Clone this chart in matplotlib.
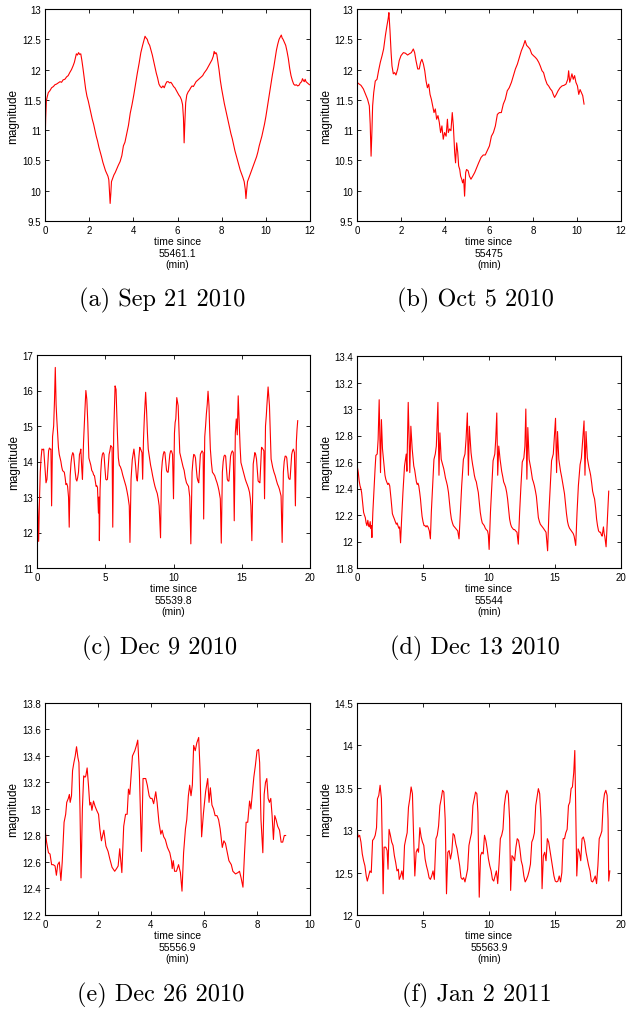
import numpy as np
import matplotlib
matplotlib.use("Agg")
import matplotlib.pyplot as plt
from matplotlib.ticker import FuncFormatter

# (time since epoch [min], magnitude) pairs
sep21 = [
    (0.00, 10.70), (0.03, 11.20), (0.06, 11.48), (0.10, 11.55), (0.15, 11.62), (0.22, 11.65),
    (0.30, 11.70), (0.38, 11.72), (0.45, 11.75), (0.52, 11.76), (0.60, 11.78), (0.68, 11.80),
    (0.75, 11.79), (0.82, 11.83), (0.90, 11.84), (0.98, 11.88), (1.05, 11.90), (1.12, 11.95),
    (1.20, 12.00), (1.27, 12.06), (1.33, 12.12), (1.38, 12.20), (1.42, 12.26), (1.47, 12.24),
    (1.52, 12.28), (1.57, 12.25), (1.62, 12.26), (1.67, 12.15), (1.72, 12.02), (1.78, 11.85),
    (1.84, 11.68), (1.90, 11.56), (1.96, 11.48), (2.02, 11.38), (2.08, 11.28), (2.14, 11.18),
    (2.20, 11.10), (2.26, 11.00), (2.32, 10.90), (2.38, 10.82), (2.44, 10.72), (2.50, 10.64),
    (2.56, 10.56), (2.62, 10.47), (2.68, 10.40), (2.74, 10.33), (2.80, 10.28), (2.85, 10.24),
    (2.89, 10.18), (2.92, 10.00), (2.95, 9.79), (2.98, 9.95), (3.01, 10.15), (3.06, 10.20),
    (3.12, 10.26), (3.18, 10.30), (3.25, 10.36), (3.32, 10.42), (3.40, 10.48), (3.48, 10.58),
    (3.55, 10.74), (3.62, 10.80), (3.70, 10.94), (3.78, 11.08), (3.86, 11.28), (3.94, 11.42),
    (4.02, 11.58), (4.10, 11.76), (4.18, 11.94), (4.26, 12.10), (4.34, 12.28), (4.42, 12.40),
    (4.48, 12.48), (4.53, 12.55), (4.58, 12.52), (4.63, 12.50), (4.68, 12.44), (4.74, 12.40),
    (4.80, 12.32), (4.86, 12.24), (4.92, 12.14), (4.98, 12.04), (5.04, 11.94), (5.10, 11.86),
    (5.16, 11.76), (5.22, 11.72), (5.28, 11.70), (5.34, 11.73), (5.40, 11.70), (5.46, 11.76),
    (5.52, 11.80), (5.58, 11.80), (5.64, 11.78), (5.70, 11.79), (5.76, 11.76), (5.82, 11.72),
    (5.88, 11.70), (5.94, 11.66), (6.00, 11.62), (6.06, 11.58), (6.12, 11.55), (6.18, 11.50),
    (6.23, 11.42), (6.27, 11.20), (6.30, 10.79), (6.33, 11.10), (6.37, 11.45), (6.42, 11.58),
    (6.48, 11.63), (6.54, 11.66), (6.60, 11.70), (6.66, 11.73), (6.72, 11.72), (6.78, 11.76),
    (6.84, 11.80), (6.90, 11.82), (6.96, 11.84), (7.02, 11.86), (7.08, 11.88), (7.14, 11.90),
    (7.20, 11.94), (7.26, 11.97), (7.32, 12.00), (7.38, 12.04), (7.44, 12.08), (7.50, 12.12),
    (7.56, 12.16), (7.62, 12.22), (7.66, 12.30), (7.70, 12.26), (7.74, 12.28), (7.78, 12.25),
    (7.82, 12.15), (7.88, 12.00), (7.94, 11.82), (8.00, 11.68), (8.06, 11.56), (8.12, 11.44),
    (8.18, 11.34), (8.24, 11.24), (8.30, 11.14), (8.36, 11.04), (8.42, 10.94), (8.48, 10.86),
    (8.54, 10.76), (8.60, 10.66), (8.66, 10.58), (8.72, 10.50), (8.78, 10.42), (8.84, 10.34),
    (8.90, 10.28), (8.96, 10.22), (9.02, 10.15), (9.07, 10.02), (9.10, 9.87), (9.13, 10.00),
    (9.17, 10.15), (9.22, 10.20), (9.28, 10.26), (9.34, 10.32), (9.40, 10.38), (9.46, 10.44),
    (9.52, 10.50), (9.58, 10.56), (9.64, 10.64), (9.70, 10.74), (9.76, 10.82), (9.82, 10.90),
    (9.88, 11.00), (9.94, 11.10), (10.00, 11.22), (10.06, 11.36), (10.12, 11.50), (10.18, 11.64),
    (10.24, 11.78), (10.30, 11.92), (10.36, 12.04), (10.42, 12.18), (10.48, 12.32), (10.54, 12.42),
    (10.60, 12.50), (10.66, 12.54), (10.70, 12.57), (10.74, 12.52), (10.78, 12.50), (10.84, 12.45),
    (10.90, 12.40), (10.96, 12.30), (11.02, 12.18), (11.08, 12.02), (11.14, 11.90), (11.20, 11.82),
    (11.26, 11.76), (11.32, 11.74), (11.38, 11.75), (11.44, 11.73), (11.50, 11.74), (11.56, 11.78),
    (11.62, 11.80), (11.66, 11.85), (11.70, 11.82), (11.74, 11.80), (11.78, 11.84), (11.82, 11.80),
    (11.88, 11.78), (11.94, 11.76), (11.98, 11.75),
]

oct5 = [
    (0.00, 11.79), (0.10, 11.76), (0.18, 11.74), (0.29, 11.68), (0.38, 11.60), (0.48, 11.51),
    (0.56, 11.40), (0.60, 11.10), (0.64, 10.57), (0.68, 11.00), (0.71, 11.40), (0.76, 11.62),
    (0.83, 11.81), (0.91, 11.84), (0.98, 11.98), (1.06, 12.12), (1.14, 12.23), (1.21, 12.34),
    (1.29, 12.56), (1.35, 12.70), (1.39, 12.78), (1.42, 12.85), (1.45, 12.94), (1.50, 12.64),
    (1.55, 12.28), (1.59, 12.06), (1.65, 11.93), (1.71, 11.95), (1.77, 11.91), (1.85, 12.01),
    (1.92, 12.15), (2.00, 12.23), (2.11, 12.28), (2.20, 12.27), (2.30, 12.24), (2.38, 12.26),
    (2.47, 12.28), (2.56, 12.34), (2.62, 12.28), (2.68, 12.15), (2.76, 12.01), (2.83, 12.01),
    (2.89, 12.12), (2.95, 12.17), (3.02, 12.09), (3.08, 11.98), (3.14, 11.81), (3.20, 11.70),
    (3.26, 11.76), (3.32, 11.59), (3.38, 11.51), (3.44, 11.40), (3.50, 11.29), (3.56, 11.35),
    (3.62, 11.18), (3.68, 11.24), (3.74, 11.13), (3.80, 10.96), (3.86, 11.07), (3.92, 10.85),
    (3.98, 10.96), (4.05, 10.90), (4.11, 11.18), (4.15, 10.96), (4.21, 11.02), (4.27, 10.99),
    (4.33, 11.29), (4.38, 11.07), (4.44, 10.63), (4.48, 10.46), (4.53, 10.79), (4.58, 10.63),
    (4.62, 10.41), (4.67, 10.35), (4.71, 10.24), (4.76, 10.19), (4.80, 10.13), (4.85, 10.19),
    (4.89, 9.91), (4.94, 10.30), (4.98, 10.35), (5.05, 10.33), (5.11, 10.24), (5.18, 10.19),
    (5.26, 10.24), (5.35, 10.30), (5.44, 10.38), (5.53, 10.46), (5.64, 10.55), (5.74, 10.59),
    (5.83, 10.59), (5.92, 10.66), (6.02, 10.74), (6.11, 10.90), (6.20, 10.96), (6.29, 11.07),
    (6.38, 11.26), (6.47, 11.29), (6.56, 11.29), (6.65, 11.43), (6.74, 11.51), (6.83, 11.65),
    (6.92, 11.70), (7.02, 11.79), (7.11, 11.90), (7.20, 12.01), (7.29, 12.09), (7.38, 12.20),
    (7.47, 12.31), (7.56, 12.39), (7.64, 12.48), (7.71, 12.40), (7.79, 12.37), (7.86, 12.34),
    (7.94, 12.26), (8.02, 12.23), (8.11, 12.20), (8.18, 12.17), (8.26, 12.12), (8.33, 12.06),
    (8.41, 11.98), (8.48, 11.95), (8.56, 11.84), (8.64, 11.76), (8.71, 11.73), (8.79, 11.68),
    (8.86, 11.65), (8.92, 11.59), (8.98, 11.54), (9.06, 11.59), (9.14, 11.65), (9.23, 11.70),
    (9.32, 11.73), (9.41, 11.74), (9.50, 11.76), (9.58, 11.84), (9.62, 11.98), (9.67, 11.79),
    (9.71, 11.84), (9.77, 11.93), (9.83, 11.84), (9.89, 11.90), (9.95, 11.79), (10.02, 11.73),
    (10.08, 11.59), (10.14, 11.67), (10.20, 11.62), (10.26, 11.57), (10.32, 11.43),
]

dec9 = [
    (0.00, 13.20), (0.06, 12.60), (0.12, 11.75), (0.18, 12.90), (0.24, 13.70), (0.30, 14.10),
    (0.36, 14.35), (0.43, 14.33), (0.49, 14.35), (0.55, 14.00), (0.60, 13.75), (0.66, 13.40),
    (0.73, 13.50), (0.79, 13.90), (0.85, 14.30), (0.91, 14.38), (0.97, 14.35), (1.02, 14.35),
    (1.07, 12.75), (1.14, 14.70), (1.22, 15.00), (1.28, 15.70), (1.34, 16.65), (1.40, 15.60),
    (1.45, 15.20), (1.51, 14.80), (1.57, 14.40), (1.63, 14.20), (1.69, 14.10), (1.75, 14.00),
    (1.81, 13.85), (1.87, 13.75), (1.93, 13.72), (2.00, 13.70), (2.06, 13.55), (2.12, 13.35),
    (2.18, 13.38), (2.24, 13.30), (2.31, 13.00), (2.36, 12.15), (2.43, 13.60), (2.49, 13.95),
    (2.55, 14.15), (2.62, 14.25), (2.68, 14.20), (2.74, 13.95), (2.80, 13.70), (2.86, 13.50),
    (2.92, 13.45), (2.98, 13.55), (3.04, 13.70), (3.11, 14.20), (3.16, 14.25), (3.21, 14.35),
    (3.28, 13.80), (3.33, 13.50), (3.41, 14.55), (3.48, 15.20), (3.53, 15.60), (3.58, 16.00),
    (3.65, 15.75), (3.72, 15.10), (3.80, 14.10), (3.87, 14.00), (3.94, 13.90), (4.01, 13.75),
    (4.09, 13.70), (4.15, 13.62), (4.21, 13.60), (4.27, 13.45), (4.33, 13.30), (4.38, 13.32),
    (4.43, 13.27), (4.50, 12.55), (4.54, 13.00), (4.57, 11.77), (4.62, 13.20), (4.67, 13.70),
    (4.73, 14.05), (4.79, 14.20), (4.85, 14.25), (4.91, 14.20), (4.97, 13.85), (5.04, 13.50),
    (5.10, 13.48), (5.16, 13.50), (5.22, 13.85), (5.28, 14.20), (5.34, 14.30), (5.40, 14.45),
    (5.50, 14.40), (5.55, 12.15), (5.62, 14.80), (5.67, 15.50), (5.72, 16.13), (5.79, 16.03),
    (5.84, 15.40), (5.89, 14.80), (5.96, 14.10), (6.03, 13.90), (6.11, 13.85), (6.20, 13.75),
    (6.28, 13.62), (6.37, 13.50), (6.45, 13.40), (6.52, 13.30), (6.60, 13.15), (6.67, 13.00),
    (6.76, 12.75), (6.81, 11.72), (6.89, 13.50), (6.98, 14.05), (7.04, 14.20), (7.10, 14.35),
    (7.16, 14.15), (7.23, 13.85), (7.29, 13.55), (7.35, 13.45), (7.41, 13.80), (7.47, 14.15),
    (7.53, 14.40), (7.59, 14.35), (7.69, 14.25), (7.74, 13.50), (7.80, 14.60), (7.87, 15.30),
    (7.96, 15.95), (8.03, 15.40), (8.09, 14.80), (8.15, 14.35), (8.24, 14.10), (8.32, 13.90),
    (8.40, 13.75), (8.47, 13.60), (8.55, 13.45), (8.64, 13.30), (8.72, 13.20), (8.81, 13.10),
    (8.88, 12.95), (8.95, 12.75), (9.05, 11.85), (9.12, 13.70), (9.18, 14.00), (9.25, 14.20),
    (9.31, 14.28), (9.37, 14.25), (9.43, 14.00), (9.49, 13.75), (9.55, 13.70), (9.61, 13.70),
    (9.67, 13.95), (9.73, 14.20), (9.79, 14.30), (9.85, 14.30), (9.93, 14.20), (10.00, 12.95),
    (10.07, 14.80), (10.12, 15.10), (10.17, 15.20), (10.24, 15.80), (10.34, 15.57), (10.40, 14.90),
    (10.46, 14.25), (10.55, 14.10), (10.63, 13.97), (10.70, 13.85), (10.78, 13.75), (10.86, 13.55),
    (10.95, 13.40), (11.02, 13.35), (11.10, 13.30), (11.19, 13.00), (11.27, 11.68), (11.36, 13.70),
    (11.42, 14.00), (11.48, 14.20), (11.55, 14.18), (11.61, 14.10), (11.67, 13.80), (11.73, 13.55),
    (11.79, 13.45), (11.85, 13.40), (11.91, 13.80), (11.97, 14.20), (12.03, 14.25), (12.09, 14.30),
    (12.17, 14.25), (12.21, 12.38), (12.29, 14.70), (12.35, 15.00), (12.41, 15.35), (12.47, 15.60),
    (12.53, 15.98), (12.60, 15.57), (12.65, 14.90), (12.70, 14.35), (12.78, 13.95), (12.85, 13.70),
    (12.94, 13.65), (13.02, 13.60), (13.10, 13.50), (13.19, 13.40), (13.26, 13.30), (13.33, 13.18),
    (13.43, 12.95), (13.50, 11.70), (13.58, 13.70), (13.64, 14.00), (13.70, 14.15), (13.76, 14.18),
    (13.82, 14.15), (13.88, 13.80), (13.94, 13.50), (14.00, 13.45), (14.06, 13.45), (14.12, 13.80),
    (14.18, 14.15), (14.25, 14.25), (14.31, 14.30), (14.38, 14.25), (14.45, 12.33), (14.53, 14.80),
    (14.60, 15.20), (14.67, 14.75), (14.74, 15.85), (14.82, 15.00), (14.88, 14.40), (14.94, 13.97),
    (15.02, 13.85), (15.09, 13.75), (15.18, 13.62), (15.26, 13.50), (15.33, 13.42), (15.40, 13.35),
    (15.49, 13.25), (15.57, 13.13), (15.63, 12.95), (15.67, 12.75), (15.74, 11.77), (15.84, 13.93),
    (15.90, 14.10), (15.96, 14.25), (16.02, 14.20), (16.08, 14.07), (16.14, 13.75), (16.20, 13.45),
    (16.27, 13.42), (16.33, 13.40), (16.39, 13.90), (16.45, 14.40), (16.50, 14.38), (16.55, 14.35),
    (16.62, 14.30), (16.67, 12.95), (16.74, 15.00), (16.80, 15.30), (16.84, 15.57), (16.93, 16.10),
    (17.03, 15.57), (17.09, 14.80), (17.15, 14.07), (17.21, 13.95), (17.27, 13.83), (17.36, 13.70),
    (17.45, 13.60), (17.53, 13.48), (17.62, 13.36), (17.69, 13.30), (17.76, 13.22), (17.82, 13.12),
    (17.88, 13.03), (17.96, 11.72), (18.05, 13.70), (18.11, 14.00), (18.18, 14.15), (18.24, 14.15),
    (18.30, 14.10), (18.36, 13.80), (18.42, 13.55), (18.48, 13.50), (18.54, 13.50), (18.60, 13.85),
    (18.66, 14.20), (18.72, 14.30), (18.78, 14.35), (18.86, 14.25), (18.93, 12.75), (19.00, 14.55),
    (19.05, 14.90), (19.10, 15.15),
]

dec13 = [
    (0.00, 12.58), (0.05, 12.55), (0.10, 12.52), (0.16, 12.46), (0.23, 12.42), (0.29, 12.40),
    (0.35, 12.37), (0.42, 12.30), (0.50, 12.22), (0.56, 12.20), (0.63, 12.18), (0.69, 12.14),
    (0.75, 12.12), (0.82, 12.16), (0.88, 12.12), (0.93, 12.11), (1.00, 12.15), (1.04, 12.10),
    (1.08, 12.12), (1.13, 12.03), (1.20, 12.22), (1.30, 12.42), (1.37, 12.55), (1.43, 12.65),
    (1.53, 12.66), (1.60, 12.77), (1.68, 13.07), (1.73, 12.77), (1.78, 12.52), (1.85, 12.92),
    (1.93, 12.70), (2.05, 12.57), (2.12, 12.50), (2.18, 12.47), (2.25, 12.45), (2.33, 12.43),
    (2.40, 12.44), (2.48, 12.42), (2.58, 12.32), (2.68, 12.21), (2.75, 12.19), (2.83, 12.17),
    (2.90, 12.15), (2.98, 12.13), (3.04, 12.14), (3.10, 12.12), (3.17, 12.10), (3.23, 12.11),
    (3.30, 11.99), (3.38, 12.17), (3.48, 12.37), (3.60, 12.57), (3.73, 12.66), (3.78, 12.53),
    (3.88, 13.05), (3.95, 12.77), (4.00, 12.52), (4.08, 12.87), (4.18, 12.70), (4.30, 12.57),
    (4.37, 12.54), (4.43, 12.50), (4.50, 12.45), (4.56, 12.43), (4.62, 12.44), (4.68, 12.42),
    (4.75, 12.37), (4.81, 12.32), (4.87, 12.25), (4.93, 12.19), (5.00, 12.15), (5.08, 12.12),
    (5.15, 12.12), (5.23, 12.11), (5.30, 12.12), (5.38, 12.11), (5.48, 12.08), (5.56, 12.02),
    (5.63, 12.22), (5.73, 12.42), (5.83, 12.62), (5.93, 12.66), (6.01, 12.72), (6.13, 13.05),
    (6.21, 12.50), (6.28, 12.82), (6.38, 12.62), (6.51, 12.57), (6.57, 12.55), (6.63, 12.52),
    (6.70, 12.48), (6.78, 12.45), (6.85, 12.42), (6.93, 12.37), (7.00, 12.30), (7.08, 12.22),
    (7.15, 12.17), (7.23, 12.14), (7.30, 12.12), (7.38, 12.11), (7.45, 12.10), (7.53, 12.09),
    (7.63, 12.08), (7.73, 12.02), (7.83, 12.22), (7.93, 12.42), (8.06, 12.62), (8.18, 12.66),
    (8.26, 12.77), (8.36, 12.97), (8.44, 12.50), (8.51, 12.87), (8.64, 12.67), (8.70, 12.62),
    (8.76, 12.58), (8.83, 12.54), (8.89, 12.50), (8.96, 12.47), (9.04, 12.45), (9.11, 12.41),
    (9.19, 12.37), (9.26, 12.30), (9.34, 12.22), (9.42, 12.17), (9.49, 12.14), (9.56, 12.13),
    (9.64, 12.12), (9.72, 12.10), (9.79, 12.09), (9.89, 12.08), (9.95, 12.05), (10.01, 11.94),
    (10.11, 12.22), (10.21, 12.42), (10.31, 12.61), (10.44, 12.66), (10.51, 12.77), (10.59, 12.97),
    (10.66, 12.50), (10.74, 12.72), (10.84, 12.62), (10.96, 12.53), (11.04, 12.49), (11.11, 12.45),
    (11.19, 12.43), (11.26, 12.41), (11.34, 12.37), (11.41, 12.32), (11.49, 12.24), (11.56, 12.17),
    (11.64, 12.13), (11.71, 12.11), (11.79, 12.10), (11.86, 12.09), (11.94, 12.09), (12.02, 12.08),
    (12.12, 12.07), (12.22, 11.98), (12.32, 12.22), (12.42, 12.42), (12.52, 12.60), (12.64, 12.63),
    (12.72, 12.72), (12.79, 13.00), (12.87, 12.47), (12.94, 12.86), (13.04, 12.62), (13.17, 12.55),
    (13.23, 12.51), (13.29, 12.47), (13.36, 12.45), (13.44, 12.42), (13.52, 12.38), (13.59, 12.34),
    (13.67, 12.25), (13.74, 12.18), (13.82, 12.15), (13.89, 12.13), (13.97, 12.12), (14.04, 12.11),
    (14.12, 12.10), (14.19, 12.09), (14.26, 12.08), (14.32, 12.07), (14.44, 11.93), (14.54, 12.22),
    (14.64, 12.42), (14.74, 12.61), (14.87, 12.66), (14.97, 12.82), (15.04, 12.93), (15.12, 12.52),
    (15.19, 12.83), (15.29, 12.62), (15.42, 12.53), (15.50, 12.49), (15.57, 12.45), (15.65, 12.40),
    (15.72, 12.36), (15.80, 12.28), (15.87, 12.21), (15.95, 12.15), (16.02, 12.12), (16.10, 12.10),
    (16.17, 12.09), (16.25, 12.08), (16.32, 12.07), (16.38, 12.06), (16.45, 12.04), (16.57, 11.97),
    (16.67, 12.22), (16.77, 12.42), (16.90, 12.58), (17.00, 12.63), (17.10, 12.77), (17.20, 12.91),
    (17.27, 12.50), (17.35, 12.83), (17.45, 12.63), (17.57, 12.56), (17.64, 12.53), (17.70, 12.50),
    (17.78, 12.44), (17.85, 12.38), (17.92, 12.35), (18.00, 12.32), (18.08, 12.25), (18.15, 12.17),
    (18.22, 12.12), (18.30, 12.08), (18.38, 12.07), (18.45, 12.07), (18.51, 12.05), (18.57, 12.04),
    (18.67, 12.11), (18.72, 12.06), (18.77, 12.04), (18.87, 11.96), (18.97, 12.17), (19.07, 12.38),
]

dec26 = [
    (0.00, 12.85), (0.06, 12.75), (0.13, 12.67), (0.19, 12.66), (0.25, 12.58), (0.31, 12.58),
    (0.38, 12.57), (0.43, 12.50), (0.48, 12.58), (0.54, 12.60), (0.60, 12.46), (0.65, 12.60),
    (0.72, 12.90), (0.78, 12.96), (0.82, 13.05), (0.88, 13.08), (0.92, 13.11), (0.95, 13.05),
    (1.00, 13.10), (1.04, 13.29), (1.09, 13.35), (1.14, 13.40), (1.19, 13.47), (1.24, 13.39),
    (1.28, 13.35), (1.32, 13.00), (1.36, 12.48), (1.41, 13.00), (1.46, 13.25), (1.51, 13.24),
    (1.54, 13.25), (1.59, 13.31), (1.64, 13.18), (1.69, 13.03), (1.73, 13.05), (1.77, 12.99),
    (1.83, 13.06), (1.89, 13.02), (1.95, 12.99), (2.02, 12.96), (2.07, 12.85), (2.13, 12.76),
    (2.22, 12.84), (2.30, 12.72), (2.38, 12.68), (2.45, 12.62), (2.53, 12.56), (2.63, 12.53),
    (2.70, 12.55), (2.76, 12.57), (2.82, 12.70), (2.90, 12.52), (2.97, 12.87), (3.04, 12.96),
    (3.10, 12.96), (3.15, 13.15), (3.20, 13.11), (3.30, 13.40), (3.39, 13.44), (3.45, 13.48),
    (3.50, 13.52), (3.56, 13.28), (3.64, 12.68), (3.70, 13.23), (3.80, 13.23), (3.86, 13.18),
    (3.93, 13.10), (3.98, 13.08), (4.04, 13.08), (4.10, 13.04), (4.18, 13.13), (4.23, 13.05),
    (4.30, 12.90), (4.37, 12.81), (4.42, 12.84), (4.48, 12.79), (4.54, 12.77), (4.62, 12.71),
    (4.71, 12.67), (4.77, 12.61), (4.80, 12.55), (4.84, 12.61), (4.89, 12.53), (4.96, 12.53),
    (5.04, 12.58), (5.11, 12.52), (5.17, 12.38), (5.23, 12.67), (5.30, 12.85), (5.35, 12.92),
    (5.41, 13.10), (5.46, 13.18), (5.51, 13.10), (5.56, 13.18), (5.61, 13.48), (5.67, 13.44),
    (5.73, 13.50), (5.80, 13.54), (5.85, 13.30), (5.91, 12.79), (5.98, 12.97), (6.06, 13.13),
    (6.14, 13.23), (6.19, 13.05), (6.24, 13.16), (6.30, 13.03), (6.36, 13.00), (6.42, 12.95),
    (6.49, 12.95), (6.55, 12.92), (6.61, 12.85), (6.69, 12.71), (6.75, 12.76), (6.81, 12.74),
    (6.88, 12.67), (6.94, 12.61), (7.03, 12.58), (7.09, 12.53), (7.19, 12.51), (7.28, 12.52),
    (7.34, 12.53), (7.40, 12.48), (7.47, 12.41), (7.53, 12.67), (7.59, 12.90), (7.65, 12.90),
    (7.72, 13.06), (7.77, 13.00), (7.82, 13.11), (7.88, 13.24), (7.94, 13.33), (8.00, 13.44),
    (8.06, 13.45), (8.10, 13.35), (8.15, 12.92), (8.22, 12.67), (8.27, 13.11), (8.32, 13.20),
    (8.37, 13.23), (8.42, 13.08), (8.47, 13.05), (8.52, 13.08), (8.57, 12.95), (8.62, 12.77),
    (8.67, 12.95), (8.72, 12.92), (8.78, 12.87), (8.85, 12.84), (8.91, 12.75), (8.97, 12.75),
    (9.03, 12.80), (9.08, 12.80),
]

jan2 = [
    (0.00, 13.05), (0.05, 12.96), (0.10, 12.92), (0.20, 12.94), (0.30, 12.86), (0.40, 12.72),
    (0.50, 12.64), (0.60, 12.58), (0.70, 12.46), (0.78, 12.40), (0.88, 12.46), (0.98, 12.52),
    (1.08, 12.50), (1.18, 12.88), (1.28, 12.90), (1.38, 12.94), (1.48, 13.03), (1.55, 13.37),
    (1.65, 13.41), (1.75, 13.53), (1.85, 13.37), (1.92, 12.80), (1.98, 12.25), (2.05, 12.80),
    (2.18, 12.80), (2.28, 12.76), (2.35, 12.54), (2.43, 13.01), (2.53, 12.94), (2.63, 12.86),
    (2.73, 12.82), (2.83, 12.70), (2.93, 12.62), (3.03, 12.52), (3.13, 12.54), (3.20, 12.42),
    (3.30, 12.46), (3.40, 12.52), (3.50, 12.42), (3.60, 12.82), (3.70, 12.90), (3.80, 12.97),
    (3.90, 13.27), (4.00, 13.37), (4.10, 13.51), (4.20, 13.43), (4.28, 12.97), (4.38, 12.46),
    (4.48, 12.74), (4.58, 12.78), (4.66, 12.74), (4.76, 13.03), (4.86, 12.92), (4.96, 12.86),
    (5.06, 12.82), (5.16, 12.66), (5.26, 12.58), (5.36, 12.52), (5.46, 12.44), (5.56, 12.42),
    (5.66, 12.46), (5.76, 12.52), (5.86, 12.42), (5.98, 12.90), (6.08, 12.94), (6.18, 13.05),
    (6.28, 13.29), (6.38, 13.37), (6.48, 13.47), (6.58, 13.45), (6.68, 13.13), (6.78, 12.25),
    (6.88, 12.74), (6.98, 12.76), (7.08, 12.66), (7.18, 12.74), (7.28, 12.96), (7.38, 12.94),
    (7.48, 12.84), (7.58, 12.78), (7.68, 12.68), (7.78, 12.58), (7.88, 12.44), (7.98, 12.42),
    (8.08, 12.44), (8.18, 12.39), (8.28, 12.46), (8.38, 12.54), (8.48, 12.82), (8.58, 12.90),
    (8.68, 12.97), (8.78, 13.29), (8.88, 13.37), (8.98, 13.45), (9.08, 13.43), (9.16, 13.21),
    (9.26, 12.21), (9.36, 12.70), (9.46, 12.74), (9.56, 12.72), (9.66, 12.94), (9.76, 12.88),
    (9.86, 12.78), (9.96, 12.66), (10.06, 12.58), (10.16, 12.52), (10.26, 12.42), (10.36, 12.40),
    (10.46, 12.46), (10.56, 12.52), (10.66, 12.37), (10.76, 12.60), (10.86, 12.90), (10.96, 12.94),
    (11.06, 13.01), (11.16, 13.29), (11.26, 13.41), (11.36, 13.47), (11.46, 13.43), (11.56, 13.13),
    (11.64, 12.29), (11.74, 12.70), (11.84, 12.68), (11.94, 12.64), (12.04, 12.80), (12.14, 12.90),
    (12.24, 12.88), (12.34, 12.78), (12.44, 12.64), (12.54, 12.58), (12.64, 12.46), (12.74, 12.39),
    (12.84, 12.42), (12.94, 12.46), (13.04, 12.52), (13.14, 12.60), (13.24, 12.86), (13.34, 12.90),
    (13.44, 12.97), (13.54, 13.29), (13.64, 13.39), (13.74, 13.49), (13.84, 13.43), (13.94, 13.13),
    (14.02, 12.31), (14.12, 12.70), (14.22, 12.74), (14.32, 12.64), (14.42, 12.90), (14.52, 12.86),
    (14.62, 12.76), (14.72, 12.66), (14.82, 12.56), (14.92, 12.46), (15.02, 12.40), (15.12, 12.39),
    (15.22, 12.40), (15.32, 12.46), (15.42, 12.39), (15.52, 12.50), (15.62, 12.90), (15.72, 12.90),
    (15.82, 12.97), (15.92, 13.01), (16.02, 13.29), (16.12, 13.33), (16.22, 13.49), (16.32, 13.51),
    (16.42, 13.68), (16.50, 13.94), (16.57, 13.21), (16.65, 12.46), (16.75, 12.78), (16.85, 12.74),
    (16.95, 12.64), (17.05, 12.90), (17.15, 12.92), (17.25, 12.86), (17.35, 12.74), (17.45, 12.66),
    (17.55, 12.58), (17.65, 12.52), (17.75, 12.40), (17.85, 12.39), (17.95, 12.42), (18.05, 12.46),
    (18.15, 12.37), (18.25, 12.58), (18.35, 12.90), (18.45, 12.94), (18.55, 12.99), (18.65, 13.31),
    (18.75, 13.43), (18.85, 13.47), (18.95, 13.41), (19.02, 13.13), (19.07, 12.40), (19.15, 12.52),
]

curves = [sep21, oct5, dec9, dec13, dec26, jan2]
captions = ["(a) Sep 21 2010", "(b) Oct 5 2010", "(c) Dec 9 2010",
            "(d) Dec 13 2010", "(e) Dec 26 2010", "(f) Jan 2 2011"]
epochs = ["55461.1", "55475", "55539.8", "55544", "55556.9", "55563.9"]
xticks = [
    [0, 2, 4, 6, 8, 10, 12],
    [0, 2, 4, 6, 8, 10, 12],
    [0, 5, 10, 15, 20],
    [0, 5, 10, 15, 20],
    [0, 2, 4, 6, 8, 10],
    [0, 5, 10, 15, 20],
]
yticks = [
    [9.5, 10, 10.5, 11, 11.5, 12, 12.5, 13],
    [9.5, 10, 10.5, 11, 11.5, 12, 12.5, 13],
    [11, 12, 13, 14, 15, 16, 17],
    [11.8, 12.0, 12.2, 12.4, 12.6, 12.8, 13.0, 13.2, 13.4],
    [12.2, 12.4, 12.6, 12.8, 13.0, 13.2, 13.4, 13.6, 13.8],
    [12, 12.5, 13, 13.5, 14, 14.5],
]

# ---- layout (pixels of a 626 x 1012 canvas) ----
W, H = 626, 1012
boxes = [  # left, top, right, bottom of each plot frame
    (45, 10, 310, 222), (357, 10, 621, 222),
    (37, 356, 310, 569), (357, 357, 621, 569),
    (45, 704, 310, 916), (357, 704, 621, 916),
]
ylabel_right = [19, 332, 20, 332, 19, 332]   # x of the right edge of "magnitude"
caption_xy = [(162, 300), (475, 300), (160, 648), (475, 648), (161, 995), (477, 995)]

plt.rcParams['font.family'] = ['Liberation Sans', 'DejaVu Sans']
plt.rcParams['font.size'] = 7

fig = plt.figure(figsize=(W / 100, H / 100), dpi=100)
fmt = FuncFormatter(lambda v, p: f"{v:g}")

for i, data in enumerate(curves):
    l, t, r, b = boxes[i]
    ax = fig.add_axes([l / W, 1 - b / H, (r - l) / W, (b - t) / H])
    tt, mag = np.array(data).T
    ax.plot(tt, mag, color='#ff0000', lw=0.8)

    ax.set_xlim(xticks[i][0], xticks[i][-1])
    ax.set_ylim(yticks[i][0], yticks[i][-1])
    ax.set_xticks(xticks[i])
    ax.set_yticks(yticks[i])
    ax.xaxis.set_major_formatter(fmt)
    ax.yaxis.set_major_formatter(fmt)
    ax.tick_params(direction='in', top=True, right=True, length=3, width=0.6,
                   labelsize=7, pad=3, colors='black')
    for sp in ax.spines.values():
        sp.set_linewidth(0.8)

    ax.set_ylabel("magnitude", fontsize=8.5)
    ax.yaxis.set_label_coords((ylabel_right[i] - l) / (r - l), 0.5)
    ax.set_xlabel(f"time since\n{epochs[i]}\n(min)", fontsize=7.5, linespacing=1.2)
    ax.xaxis.set_label_coords(0.5, -15 / (b - t))

    cx, cy = caption_xy[i]
    fig.text(cx / W, 1 - cy / H, captions[i], ha='center', va='center',
             fontsize=17.5, family='cmr10')

fig.savefig("out.png", dpi=100)
